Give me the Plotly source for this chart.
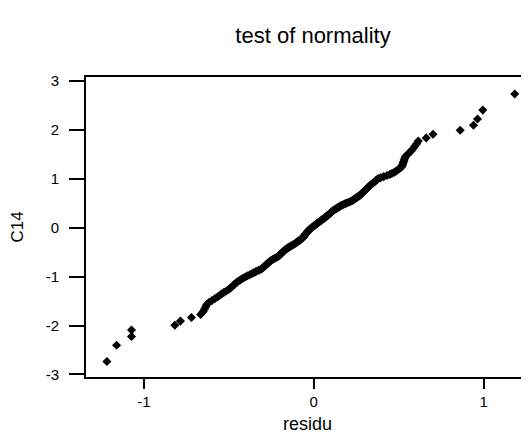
import plotly.graph_objects as go

# normal scores (C14) and residuals, in rank order
C14 = [
    -2.735, -2.405, -2.223, -2.094, -1.993, -1.910, -1.837, -1.773, -1.716, -1.664,
    -1.615, -1.571, -1.530, -1.491, -1.454, -1.419, -1.385, -1.353, -1.323, -1.293,
    -1.265, -1.237, -1.211, -1.185, -1.160, -1.136, -1.112, -1.090, -1.067, -1.045,
    -1.024, -1.003, -0.982, -0.962, -0.943, -0.923, -0.904, -0.886, -0.867, -0.849,
    -0.832, -0.814, -0.797, -0.780, -0.763, -0.746, -0.730, -0.714, -0.698, -0.682,
    -0.666, -0.651, -0.635, -0.620, -0.605, -0.589, -0.574, -0.560, -0.545, -0.531,
    -0.516, -0.502, -0.488, -0.474, -0.460, -0.446, -0.432, -0.418, -0.405, -0.391,
    -0.378, -0.364, -0.351, -0.338, -0.324, -0.311, -0.298, -0.285, -0.272, -0.259,
    -0.247, -0.234, -0.221, -0.208, -0.196, -0.183, -0.170, -0.158, -0.145, -0.132,
    -0.120, -0.107, -0.094, -0.082, -0.069, -0.056, -0.044, -0.031, -0.019, -0.006,
    0.006, 0.019, 0.031, 0.044, 0.056, 0.069, 0.082, 0.094, 0.107, 0.120,
    0.132, 0.145, 0.158, 0.170, 0.183, 0.196, 0.208, 0.221, 0.234, 0.247,
    0.259, 0.272, 0.285, 0.298, 0.311, 0.324, 0.338, 0.351, 0.364, 0.378,
    0.391, 0.405, 0.418, 0.432, 0.446, 0.460, 0.474, 0.488, 0.502, 0.516,
    0.531, 0.545, 0.560, 0.574, 0.589, 0.605, 0.620, 0.635, 0.651, 0.666,
    0.682, 0.698, 0.714, 0.730, 0.746, 0.763, 0.780, 0.797, 0.814, 0.832,
    0.849, 0.867, 0.886, 0.904, 0.923, 0.943, 0.962, 0.982, 1.003, 1.024,
    1.045, 1.067, 1.090, 1.112, 1.136, 1.160, 1.185, 1.211, 1.237, 1.265,
    1.293, 1.323, 1.353, 1.385, 1.419, 1.454, 1.491, 1.530, 1.571, 1.615,
    1.664, 1.716, 1.773, 1.837, 1.910, 1.993, 2.094, 2.223, 2.405, 2.735,
]

residu = [
    -1.218, -1.161, -1.073, -1.073, -0.818, -0.785, -0.720, -0.666, -0.651, -0.643,
    -0.636, -0.630, -0.618, -0.600, -0.583, -0.568, -0.555, -0.542, -0.529, -0.515,
    -0.501, -0.492, -0.484, -0.475, -0.468, -0.460, -0.452, -0.443, -0.432, -0.422,
    -0.412, -0.401, -0.389, -0.377, -0.366, -0.355, -0.344, -0.334, -0.322, -0.311,
    -0.304, -0.298, -0.293, -0.287, -0.282, -0.277, -0.271, -0.266, -0.261, -0.256,
    -0.250, -0.242, -0.234, -0.227, -0.219, -0.211, -0.204, -0.200, -0.196, -0.192,
    -0.188, -0.184, -0.180, -0.175, -0.171, -0.167, -0.161, -0.154, -0.149, -0.142,
    -0.136, -0.129, -0.123, -0.117, -0.110, -0.105, -0.100, -0.095, -0.090, -0.084,
    -0.080, -0.075, -0.070, -0.066, -0.063, -0.060, -0.057, -0.054, -0.052, -0.049,
    -0.046, -0.043, -0.040, -0.037, -0.034, -0.031, -0.028, -0.023, -0.019, -0.014,
    -0.010, -0.005, -0.001, 0.003, 0.008, 0.013, 0.017, 0.022, 0.027, 0.032,
    0.037, 0.042, 0.047, 0.052, 0.057, 0.062, 0.067, 0.071, 0.076, 0.080,
    0.084, 0.089, 0.093, 0.097, 0.101, 0.105, 0.110, 0.114, 0.119, 0.126,
    0.132, 0.139, 0.145, 0.152, 0.158, 0.165, 0.174, 0.183, 0.192, 0.202,
    0.212, 0.221, 0.229, 0.235, 0.241, 0.248, 0.254, 0.260, 0.267, 0.273,
    0.278, 0.282, 0.287, 0.292, 0.296, 0.301, 0.306, 0.311, 0.316, 0.321,
    0.327, 0.333, 0.339, 0.345, 0.352, 0.359, 0.365, 0.372, 0.379, 0.394,
    0.412, 0.431, 0.448, 0.461, 0.475, 0.486, 0.495, 0.505, 0.515, 0.521,
    0.523, 0.526, 0.529, 0.532, 0.536, 0.540, 0.550, 0.561, 0.573, 0.584,
    0.594, 0.606, 0.615, 0.662, 0.702, 0.862, 0.940, 0.964, 0.995, 1.183,
]

x_ticks = [-1, 0, 1]
y_ticks = [-3, -2, -1, 0, 1, 2, 3]

FONT = "Liberation Sans, Arial, sans-serif"

# the page adds an 8px body margin, so the figure is sized to fill the rest of the window
W, H = 521, 430

fig = go.Figure(
    go.Scatter(
        x=residu, y=C14, mode="markers",
        marker=dict(symbol="diamond", size=7, color="black", line=dict(width=0)),
        showlegend=False, cliponaxis=False,
    )
)

fig.update_layout(
    width=W, height=H,
    margin=dict(l=78, r=0, t=69, b=61, autoexpand=False),
    paper_bgcolor="white", plot_bgcolor="white",
    font=dict(family=FONT, size=15, color="black"),
    title=dict(text="test of normality", x=305 / W, xanchor="center", xref="container",
               y=1 - 27 / H, yanchor="middle", yref="container", automargin=False,
               font=dict(family=FONT, size=22, color="black")),
    xaxis=dict(
        range=[-1.341, 1.267], tickvals=x_ticks, ticktext=[str(v) for v in x_ticks],
        showgrid=False, zeroline=False, showline=True, linecolor="black", linewidth=2,
        mirror=True, ticks="outside", ticklen=10, tickwidth=1.5, tickcolor="black",
        title=dict(text="residu", standoff=8, font=dict(size=18)),
        tickfont=dict(size=15), automargin=False,
    ),
    yaxis=dict(
        range=[-3.053, 3.082], tickvals=y_ticks, ticktext=[str(v) for v in y_ticks],
        showgrid=False, zeroline=False, showline=True, linecolor="black", linewidth=2,
        mirror=False, ticks="outside", ticklen=15, tickwidth=1.5, tickcolor="black",
        ticklabelstandoff=7,
        title=dict(text="C14", standoff=18, font=dict(size=17)),
        tickfont=dict(size=15), automargin=False,
    ),
)

fig.write_html("out.html")
